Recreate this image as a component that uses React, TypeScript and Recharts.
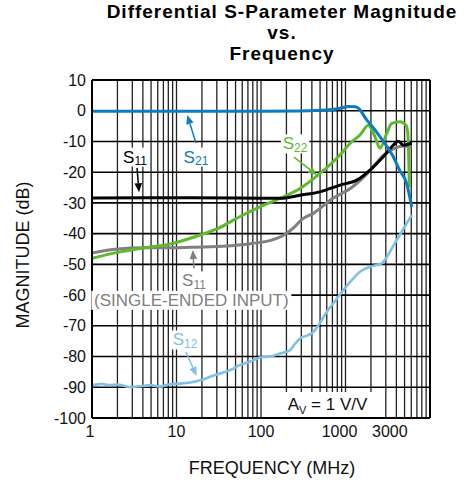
import React from 'react';
import { LineChart, Line, XAxis, YAxis, CartesianGrid, ReferenceLine, ReferenceDot } from 'recharts';

// frequency in MHz, magnitude in dB
const s21Freq = [1, 10, 100, 300, 600, 900, 1080, 1300, 1420, 1783, 2200, 2560, 3073, 3680, 4400, 5300, 6070];
const s21Mag = [-0.2, -0.2, -0.2, -0.1, 0.2, 0.9, 1.4, 1.3, 0.8, -3, -6, -8.5, -11.5, -15, -19.5, -23.7, -31.3];

const s11Freq = [1, 10, 50, 168, 290, 499, 861, 1358, 1950, 2801, 3680, 4218, 4833, 6070];
const s11Mag = [-28.4, -28.3, -28.4, -28.5, -27.5, -26.4, -24.2, -22.6, -19.3, -15, -11.2, -9.9, -11.2, -10.6];

const s22Freq = [1, 2, 4.2, 8, 16.6, 31, 56, 97, 168, 290, 499, 861, 1183, 1485, 1862, 2235, 2561, 3073, 3524, 4418, 5200, 5450, 5600, 5700];
const s22Mag = [-48, -46.1, -44.6, -43.5, -41, -38.3, -34.5, -31.3, -28.5, -25.3, -20.4, -14.4, -10.1, -7.9, -4.7, -8.5, -12.2, -7.4, -4.1, -3.6, -4.7, -7, -15, -25];

const s11seFreq = [1, 2, 4.2, 9, 17, 40, 78, 133, 185, 250, 300, 416, 711, 1183, 1950, 2801, 3853, 4833, 6070];
const s11seMag = [-46.3, -45, -44.6, -44.6, -44.4, -44, -43.2, -42.1, -40.5, -37.8, -35.5, -33.4, -28.5, -25, -19.5, -14.5, -12.2, -11.5, -11.9];

const s12Freq = [1, 1.3, 1.6, 2, 2.8, 4, 5, 6.4, 8, 11, 14, 19, 25, 32.7, 45, 56, 75, 97, 130, 168, 220, 250, 290, 350, 416, 500, 599, 750, 942, 1200, 1485, 1950, 2680, 3100, 3680, 4833, 6070];
const s12Mag = [-89.4, -88.9, -89.3, -89.1, -89.9, -89.6, -89.3, -89.8, -89.1, -88.8, -88.5, -87.7, -86.6, -85.5, -84.2, -82.8, -81.6, -80.3, -80, -79, -78, -76, -74.1, -73.2, -72, -69, -65.5, -62, -58.4, -55, -52.4, -50.8, -49.7, -47.5, -44, -38.5, -34];

const freqTicks = [1, 10, 100, 1000, 3000];
const dbTicks = [-100, -90, -80, -70, -60, -50, -40, -30, -20, -10, 0, 10];

const toPoints = (f: number[], v: number[]) => f.map((x, i) => ({ f: x, v: v[i] }));

const FONT = '"Liberation Sans", Arial, Helvetica, sans-serif';
const C_S21 = '#0b7cc1';
const C_S22 = '#5eb92f';
const C_GRAY = '#808080';
const C_S12 = '#7fc1e4';

const vGrid: number[] = [];
for (let d = 1; d < 10000; d *= 10) for (let m = 1; m <= 9; m++) vGrid.push(m * d);
vGrid.push(10000);

// place the vertical grid through the x axis' own log scale
const vGen = ({ xAxis }: any) => {
  const s = xAxis?.scale;
  if (typeof s === 'function') return vGrid.map((v) => s(v));
  if (s && typeof s.map === 'function') return vGrid.map((v) => s.map(v));
  return [];
};

function Tag(props: any) {
  const { cx, cy, main, sub, color, size = 17, w, h = 19 } = props;
  if (cx == null || cy == null) return null;
  const subSize = Math.round(size * 0.7);
  const width = w ?? (main.length * size * 0.62 + (sub ? sub.length * subSize * 0.58 : 0) + 4);
  return (
    <g>
      <rect x={cx - width / 2} y={cy - h / 2} width={width} height={h} fill="#fff" />
      <text x={cx} y={cy} textAnchor="middle" dominantBaseline="central" fontFamily={FONT} fontSize={size} fill={color}>
        {main}
        {sub ? <tspan fontSize={subSize} dy={4}>{sub}</tspan> : null}
      </text>
    </g>
  );
}

function AvTag(props: any) {
  const { cx, cy } = props;
  if (cx == null || cy == null) return null;
  return (
    <g>
      <rect x={cx - 56} y={cy - 12.5} width={111} height={25} fill="#fff" />
      <text x={cx} y={cy + 6} textAnchor="middle" fontFamily={FONT} fontSize={17} fill="#111">
        A<tspan fontSize={11} dy={4}>V</tspan><tspan dy={-4}> = 1 V/V</tspan>
      </text>
    </g>
  );
}

function Arrow(props: any) {
  const { x1, y1, x2, y2, color, head = 9 } = props;
  if ([x1, y1, x2, y2].some((n) => n == null || isNaN(n))) return null;
  const ang = Math.atan2(y2 - y1, x2 - x1);
  const bx = x2 - head * Math.cos(ang);
  const by = y2 - head * Math.sin(ang);
  const hw = head * 0.42;
  const px = -Math.sin(ang) * hw;
  const py = Math.cos(ang) * hw;
  return (
    <g>
      <line x1={x1} y1={y1} x2={bx} y2={by} stroke={color} strokeWidth={1.5} />
      <polygon points={`${x2},${y2} ${bx + px},${by + py} ${bx - px},${by - py}`} fill={color} />
    </g>
  );
}

const tickShift: Record<number, number> = { 1: -2, 1000: -6, 3000: 4 };

function FreqTick(props: any) {
  const { x, y, payload } = props;
  const dx = tickShift[payload.value] ?? 0;
  return (
    <text x={x + dx} y={y} dy="0.71em" textAnchor="middle" fontFamily={FONT} fontSize={16} fill="#111">
      {payload.value}
    </text>
  );
}

export default function App() {
  return (
    <div style={{ position: 'absolute', left: 0, top: 0, width: 466, height: 485, background: '#fff', fontFamily: FONT }}>
      <div style={{ position: 'absolute', left: 96, top: 1, width: 372, textAlign: 'center', fontWeight: 'bold', fontSize: 19, letterSpacing: 1, lineHeight: '21px', color: '#000' }}>
        Differential S-Parameter Magnitude<br />vs.<br />Frequency
      </div>
      <div style={{ position: 'absolute', left: 23, top: 255, transform: 'translate(-50%, -50%) rotate(-90deg)', whiteSpace: 'nowrap', fontSize: 18, color: '#111' }}>
        MAGNITUDE (dB)
      </div>
      <div style={{ position: 'absolute', left: 272, top: 468, transform: 'translate(-50%, -50%)', whiteSpace: 'nowrap', fontSize: 18, color: '#111' }}>
        FREQUENCY (MHz)
      </div>
      <LineChart width={466} height={485} margin={{ top: 80, right: 36, left: 0, bottom: 37 }}>
        <CartesianGrid horizontal={false} verticalCoordinatesGenerator={vGen} stroke="#222" strokeWidth={1.3} />
        <CartesianGrid vertical={false} horizontalValues={dbTicks} stroke="#000" strokeWidth={1.6} />
        <XAxis
          dataKey="f"
          type="number"
          scale="log"
          domain={[1, 10000]}
          ticks={freqTicks}
          allowDataOverflow
          height={30}
          tickLine={false}
          tickSize={6}
          tickMargin={2}
          axisLine={{ stroke: '#000', strokeWidth: 2 }}
          tick={<FreqTick />}
        />
        <YAxis
          type="number"
          domain={[-100, 10]}
          ticks={dbTicks}
          width={92}
          tickLine={false}
          tickSize={4}
          tickMargin={2}
          axisLine={{ stroke: '#000', strokeWidth: 2 }}
          tick={{ fontFamily: FONT, fontSize: 16, fill: '#111' }}
        />
        <ReferenceLine x={10000} stroke="#000" strokeWidth={2} />
        <ReferenceLine y={10} stroke="#000" strokeWidth={2} />

        <Line data={toPoints(s12Freq, s12Mag)} dataKey="v" type="monotone" stroke={C_S12} strokeWidth={2.6} dot={false} isAnimationActive={false} />
        <Line data={toPoints(s11seFreq, s11seMag)} dataKey="v" type="monotone" stroke={C_GRAY} strokeWidth={3} dot={false} isAnimationActive={false} />
        <Line data={toPoints(s22Freq, s22Mag)} dataKey="v" type="monotone" stroke={C_S22} strokeWidth={3} dot={false} isAnimationActive={false} />
        <Line data={toPoints(s11Freq, s11Mag)} dataKey="v" type="monotone" stroke="#000" strokeWidth={3} dot={false} isAnimationActive={false} />
        <Line data={toPoints(s21Freq, s21Mag)} dataKey="v" type="monotone" stroke={C_S21} strokeWidth={3} dot={false} isAnimationActive={false} />

        <ReferenceLine segment={[{ x: 17, y: -10.5 }, { x: 13.4, y: -1.4 }]} shape={(p: any) => <Arrow {...p} color={C_S21} />} />
        <ReferenceLine segment={[{ x: 3.41, y: -18.6 }, { x: 3.6, y: -26.5 }]} shape={(p: any) => <Arrow {...p} color="#000" />} />
        <ReferenceLine segment={[{ x: 246, y: -15.1 }, { x: 460, y: -21 }]} shape={(p: any) => <Arrow {...p} color={C_S22} />} />
        <ReferenceLine segment={[{ x: 16.1, y: -51.3 }, { x: 15.6, y: -45.3 }]} shape={(p: any) => <Arrow {...p} color={C_GRAY} />} />
        <ReferenceLine segment={[{ x: 12.9, y: -78.5 }, { x: 17.3, y: -86.3 }]} shape={(p: any) => <Arrow {...p} color={C_S12} />} />

        <ReferenceDot x={17} y={-15.1} r={0} ifOverflow="visible" shape={(p: any) => <Tag {...p} main="S" sub="21" color={C_S21} />} />
        <ReferenceDot x={3.23} y={-15.1} r={0} ifOverflow="visible" shape={(p: any) => <Tag {...p} main="S" sub="11" color="#000" />} />
        <ReferenceDot x={253} y={-10.8} r={0} ifOverflow="visible" shape={(p: any) => <Tag {...p} main="S" sub="22" color={C_S22} />} />
        <ReferenceDot x={16.1} y={-55.4} r={0} ifOverflow="visible" shape={(p: any) => <Tag {...p} main="S" sub="11" color={C_GRAY} />} />
        <ReferenceDot x={15} y={-61.7} r={0} ifOverflow="visible" shape={(p: any) => <Tag {...p} main="(SINGLE-ENDED INPUT)" color={C_GRAY} w={200} h={19} />} />
        <ReferenceDot x={12.6} y={-74.6} r={0} ifOverflow="visible" shape={(p: any) => <Tag {...p} main="S" sub="12" color={C_S12} />} />
        <ReferenceDot x={612} y={-95.6} r={0} ifOverflow="visible" shape={(p: any) => <AvTag {...p} />} />
      </LineChart>
    </div>
  );
}
